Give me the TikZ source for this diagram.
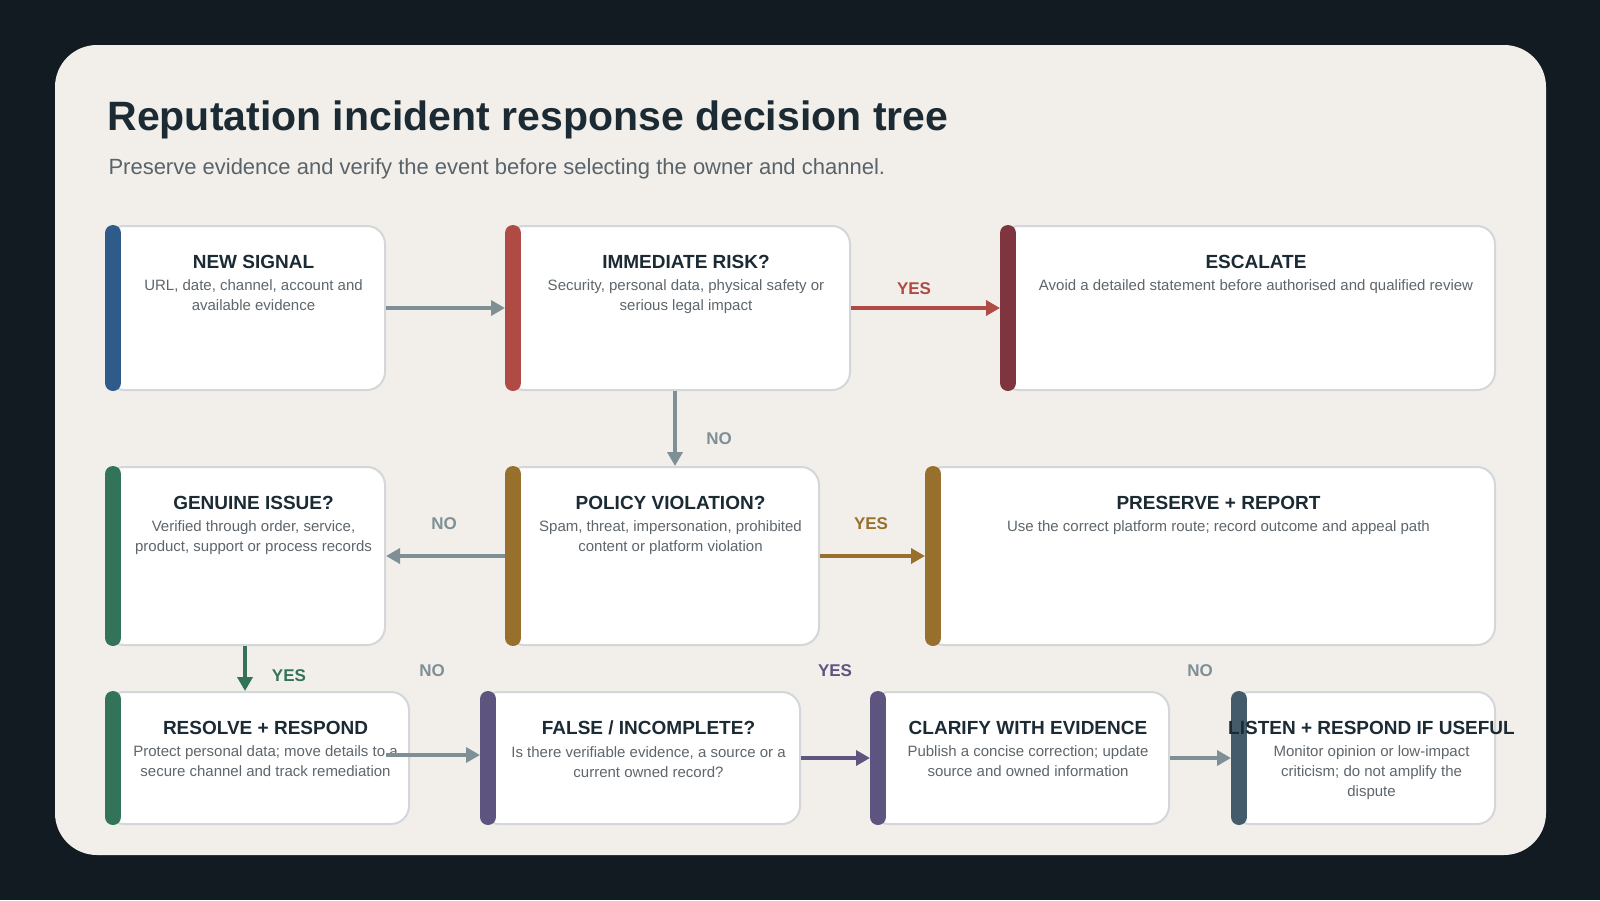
\documentclass[tikz,border=0pt]{standalone}
\usepackage{fontspec}
\setmainfont{Liberation Sans}
\usetikzlibrary{positioning, arrows.meta, calc}

\definecolor{pagebg}{HTML}{121A22}
\definecolor{cardbg}{HTML}{F2EFEA}
\definecolor{ink}{HTML}{1B2A33}
\definecolor{subink}{HTML}{59636A}
\definecolor{descink}{HTML}{5E666C}
\definecolor{edge}{HTML}{D3D7DA}
\definecolor{cblue}{HTML}{2F5B8A}
\definecolor{cred}{HTML}{B04A44}
\definecolor{cwine}{HTML}{7F3540}
\definecolor{cgreen}{HTML}{33735A}
\definecolor{cgold}{HTML}{98702E}
\definecolor{cpurple}{HTML}{5E5480}
\definecolor{cslate}{HTML}{435B6B}
\definecolor{cgray}{HTML}{7F8F96}

\tikzset{
  box/.style={draw=edge, line width=2pt, fill=white, rounded corners=18pt, anchor=north west, inner sep=0pt},
  head/.style={font=\fontsize{19}{22}\selectfont\bfseries, text=ink},
  desc/.style={font=\fontsize{15}{20}\selectfont, text=descink, align=center},
  flow/.style={-{Triangle[length=14pt, width=15pt]}, line width=3.5pt},
  tag/.style={font=\fontsize{17}{20}\selectfont\bfseries}
}

% name, x1, y1, x2, y2, colour, heading, text
\newcommand{\stepbox}[8]{%
  \node[box, minimum width=#4-#2, minimum height=#5-#3] (#1) at (#2,#3) {};
  \draw[#6, line width=16pt, line cap=round] ([xshift=8pt, yshift=-8pt]#1.north west) -- ([xshift=8pt, yshift=8pt]#1.south west);
  \node[head] (#1-h) at ($(#1.north)+(8,37)$) {#7};
  \node[desc, below=4pt of #1-h] (#1-d) {#8};
}

\begin{document}
\begin{tikzpicture}[x=1pt, y=-1pt]
  \useasboundingbox (0,0) rectangle (1600,900);
  \fill[pagebg] (0,0) rectangle (1600,900);
  \fill[cardbg, rounded corners=42pt] (55,45) rectangle (1546,855);

  % Title
  \node[anchor=base west, font=\fontsize{41}{48}\selectfont\bfseries, text=ink] (title) at (104,130) {Reputation incident response decision tree};
  \node[anchor=base west, font=\fontsize{22}{26}\selectfont, text=subink] (sub) at (105,174) {Preserve evidence and verify the event before selecting the owner and channel.};

  % Boxes
  \stepbox{sig}{105}{225}{384}{389}{cblue}{NEW SIGNAL}{URL, date, channel, account and\\available evidence}
  \stepbox{risk}{505}{225}{849}{389}{cred}{IMMEDIATE RISK?}{Security, personal data, physical safety or\\serious legal impact}
  \stepbox{esc}{1000}{225}{1494}{389}{cwine}{ESCALATE}{Avoid a detailed statement before authorised and qualified review}
  \stepbox{gen}{105}{466}{384}{644}{cgreen}{GENUINE ISSUE?}{Verified through order, service,\\product, support or process records}
  \stepbox{pol}{505}{466}{818}{644}{cgold}{POLICY VIOLATION?}{Spam, threat, impersonation, prohibited\\content or platform violation}
  \stepbox{pres}{925}{466}{1494}{644}{cgold}{PRESERVE + REPORT}{Use the correct platform route; record outcome and appeal path}
  \stepbox{res}{105}{691}{408}{823}{cgreen}{RESOLVE + RESPOND}{Protect personal data; move details to a\\secure channel and track remediation}
  \stepbox{fal}{480}{691}{799}{823}{cpurple}{FALSE / INCOMPLETE?}{Is there verifiable evidence, a source or a\\current owned record?}
  \stepbox{cla}{870}{691}{1168}{823}{cpurple}{CLARIFY WITH EVIDENCE}{Publish a concise correction; update\\source and owned information}
  \stepbox{lis}{1231}{691}{1494}{823}{cslate}{LISTEN + RESPOND IF USEFUL}{Monitor opinion or low-impact\\criticism; do not amplify the\\dispute}

  % Connectors
  \draw[flow, cgray] (sig.east) -- (risk.west);
  \draw[flow, cred] (risk.east) -- (esc.west);
  \node[tag, text=cred] (t1) at (914,289) {YES};
  \draw[flow, cgray] (risk.south -| 675,0) -- (pol.north -| 675,0);
  \node[tag, text=cgray] (t2) at (719,439) {NO};
  \draw[flow, cgray] (pol.west) -- (gen.east);
  \node[tag, text=cgray] (t3) at (444,524) {NO};
  \draw[flow, cgold] (pol.east) -- (pres.west);
  \node[tag, text=cgold] (t4) at (871,524) {YES};
  \draw[flow, cgreen] (gen.south -| 245,0) -- (res.north -| 245,0);
  \node[tag, text=cgreen] (t5) at (289,676) {YES};
  \coordinate (resout) at (386,755);
  \draw[flow, cgray] (resout) -- (resout -| fal.west);
  \node[tag, text=cgray] (t6) at (432,671) {NO};
  \draw[flow, cpurple] (fal.east) -- (cla.west);
  \node[tag, text=cpurple] (t7) at (835,671) {YES};
  \draw[flow, cgray] (cla.east) -- (lis.west);
  \node[tag, text=cgray] (t8) at (1200,671) {NO};
\end{tikzpicture}
\end{document}
